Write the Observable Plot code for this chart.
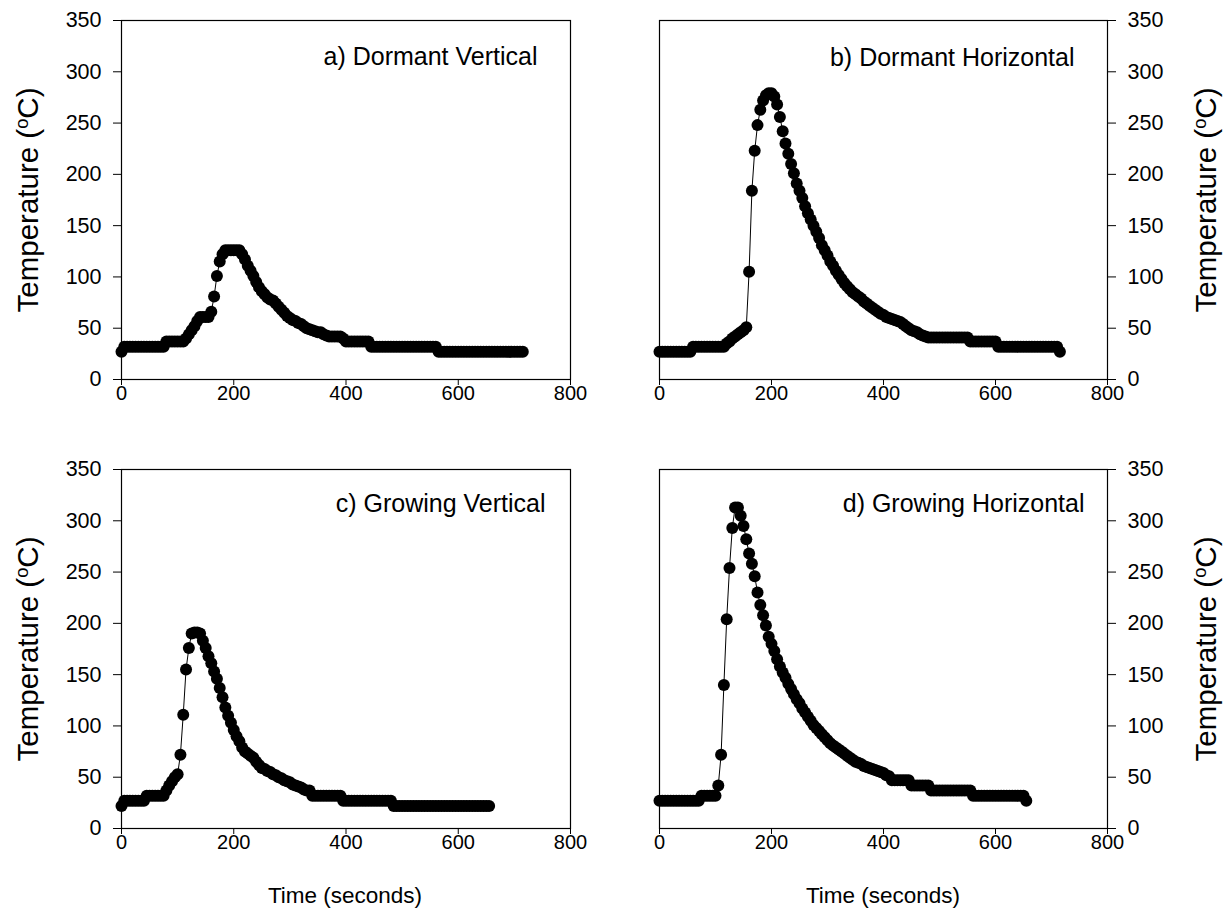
<!DOCTYPE html>
<html>
<head>
<meta charset="utf-8">
<script src="https://cdn.jsdelivr.net/npm/d3@7"></script>
<script src="https://cdn.jsdelivr.net/npm/@observablehq/plot@0.6"></script>
<style>
  html, body { margin: 0; padding: 0; background: #fff; }
  #wrap { position: relative; width: 1227px; height: 909px; overflow: hidden;
          font-family: "Liberation Sans", Arial, sans-serif; color: #000; }
  .panel { position: absolute; }
  .ytitle { position: absolute; font-size: 29.5px; line-height: 1; white-space: nowrap;
            transform: translate(-50%, -50%) rotate(-90deg); }
  .ytitle sup { font-size: 0.62em; vertical-align: 0.55em; line-height: 0; }
  .xtitle { position: absolute; font-size: 22.5px; line-height: 1; white-space: nowrap;
            transform: translate(-50%, -50%); }
</style>
</head>
<body>
<div id="wrap"></div>
<script>
// ---------------- data (temperature in °C, logged every 5 seconds) ----------------
const sampleStepSeconds = 5;
const xTicks = [0, 200, 400, 600, 800];
const yTicks = [0, 50, 100, 150, 200, 250, 300, 350];

const panelLabels = ["a) Dormant Vertical", "b) Dormant Horizontal", "c) Growing Vertical", "d) Growing Horizontal"];

// a) Dormant Vertical, t = 0 … 715 s
const dormantVertical = [
  27,
  32,32,32,32,32,32,32,32,32,32,32,32,32,32,32,
  37,37,37,37,37,37,37,
  40,44,48,52,57,61,61,61,61,66,
  81,101,115,122,126,126,126,126,126,126,
  122,117,111,106,101,95,90,86,83,80,
  78,77,74,71,68,65,62,60,58,57,
  55,54,52,50,49,48,47,46,46,44,
  43,42,42,42,42,42,40,
  37,37,37,37,37,37,37,37,37,
  32,32,32,32,32,32,32,32,32,32,32,32,32,32,32,32,32,32,32,32,32,32,32,32,
  27,27,27,27,27,27,27,27,27,27,27,27,27,27,27,27,27,27,27,27,27,27,27,27,27,27,27,27,27,27,27
];

// b) Dormant Horizontal, t = 0 … 715 s
const dormantHorizontal = [
  27,27,27,27,27,27,27,27,27,27,27,27,
  32,32,32,32,32,32,32,32,32,32,32,32,
  35,37,40,42,44,46,48,
  51,105,184,223,248,263,272,277,279,279,276,268,
  256,242,230,220,210,201,191,184,177,169,
  162,156,150,144,138,131,126,121,115,111,
  106,102,98,94,91,88,85,83,81,79,
  76,74,72,70,68,66,64,63,61,60,
  59,58,57,56,54,52,50,48,47,46,
  44,43,42,
  41,41,41,41,41,41,41,41,41,41,41,41,41,41,41,
  37,37,37,37,37,37,37,37,37,37,
  32,32,32,32,32,32,32,32,32,32,32,32,32,32,32,32,32,32,32,32,32,32,
  27
];

// c) Growing Vertical, t = 0 … 655 s
const growingVertical = [
  22,
  27,27,27,27,27,27,27,27,
  32,32,32,32,32,32,32,
  37,42,46,50,53,72,111,155,176,190,
  191,191,190,183,176,168,161,153,146,137,
  128,118,110,103,96,90,85,79,75,73,
  71,69,65,62,59,58,56,55,53,52,
  50,49,47,46,45,43,42,41,40,38,
  37,37,
  32,32,32,32,32,32,32,32,32,32,32,
  27,27,27,27,27,27,27,27,27,27,27,27,27,27,27,27,27,27,
  22,22,22,22,22,22,22,22,22,22,22,22,22,22,22,22,22,22,22,22,22,22,22,22,22,22,22,22,22,22,22,22,22,22,22
];

// d) Growing Horizontal, t = 0 … 655 s
const growingHorizontal = [
  27,27,27,27,27,27,27,27,27,27,27,27,27,27,27,
  32,32,32,32,32,32,
  42,72,140,204,254,293,313,313,305,295,
  282,268,258,246,230,218,208,198,187,180,
  173,165,158,152,147,141,136,131,126,122,
  117,113,109,105,101,98,95,92,89,86,
  83,81,79,77,75,73,71,69,67,65,
  64,63,61,60,59,58,57,56,55,54,
  52,51,
  47,47,47,47,47,47,47,
  42,42,42,42,42,42,42,
  37,37,37,37,37,37,37,37,37,37,37,37,37,37,37,
  32,32,32,32,32,32,32,32,32,32,32,32,32,32,32,32,32,32,32,
  27
];

// ---------------- drawing ----------------
const FONT = "Liberation Sans, Arial, sans-serif";
const wrap = document.getElementById("wrap");

function makePanel(series, label, opts) {
  const data = series.map((v, i) => ({t: i * sampleStepSeconds, v}));
  const chart = Plot.plot({
    width: opts.width,
    height: opts.height,
    marginLeft: opts.marginLeft,
    marginRight: opts.marginRight,
    marginTop: opts.marginTop,
    marginBottom: opts.marginBottom,
    style: {fontFamily: FONT, fontSize: "21px", color: "#000", background: "transparent", overflow: "visible"},
    x: {domain: [0, 800], ticks: xTicks, label: null},
    y: {domain: [0, 350], ticks: yTicks, label: null},
    marks: [
      Plot.frame({stroke: "#000", strokeWidth: 1.2}),
      Plot.axisX({ticks: xTicks, tickSize: 6, tickPadding: 0, label: null, fontSize: 20, tickFormat: d => String(d)}),
      Plot.axisY({anchor: opts.side, ticks: yTicks, tickSize: 8, tickPadding: 12, label: null, fontSize: 21.5, tickFormat: d => String(d)}),
      Plot.line(data, {x: "t", y: "v", stroke: "#000", strokeWidth: 1}),
      Plot.dot(data, {x: "t", y: "v", r: 6, fill: "#000", stroke: "none"}),
      Plot.text([label], {frameAnchor: "top-right", text: d => d, textAnchor: "end", lineAnchor: "middle",
                          dx: opts.labelDx, dy: opts.labelDy, fontSize: 25, fill: "#000"})
    ]
  });
  chart.classList.add("panel");
  chart.style.left = opts.left + "px";
  chart.style.top = opts.top + "px";
  wrap.appendChild(chart);
}

// a) top-left
makePanel(dormantVertical, panelLabels[0], {left: 0, top: 0, width: 600, height: 440,
  marginLeft: 121, marginRight: 30, marginTop: 20, marginBottom: 61, side: "left", labelDx: -33, labelDy: 36});
// b) top-right
makePanel(dormantHorizontal, panelLabels[1], {left: 559, top: 0, width: 668, height: 440,
  marginLeft: 100, marginRight: 120, marginTop: 20, marginBottom: 61, side: "right", labelDx: -33, labelDy: 37});
// c) bottom-left
makePanel(growingVertical, panelLabels[2], {left: 0, top: 449, width: 600, height: 460,
  marginLeft: 121, marginRight: 30, marginTop: 20, marginBottom: 81, side: "left", labelDx: -25, labelDy: 34});
// d) bottom-right
makePanel(growingHorizontal, panelLabels[3], {left: 559, top: 449, width: 668, height: 460,
  marginLeft: 100, marginRight: 120, marginTop: 20, marginBottom: 81, side: "right", labelDx: -23, labelDy: 34});

// axis titles
function addTitle(cls, html, x, y) {
  const d = document.createElement("div");
  d.className = cls;
  d.innerHTML = html;
  d.style.left = x + "px";
  d.style.top = y + "px";
  wrap.appendChild(d);
}
const yTitle = "Temperature (<sup>o</sup>C)";
addTitle("ytitle", yTitle, 28, 200);
addTitle("ytitle", yTitle, 1206, 200);
addTitle("ytitle", yTitle, 28, 649);
addTitle("ytitle", yTitle, 1206, 649);
addTitle("xtitle", "Time (seconds)", 345, 896);
addTitle("xtitle", "Time (seconds)", 883, 896);
</script>
</body>
</html>
